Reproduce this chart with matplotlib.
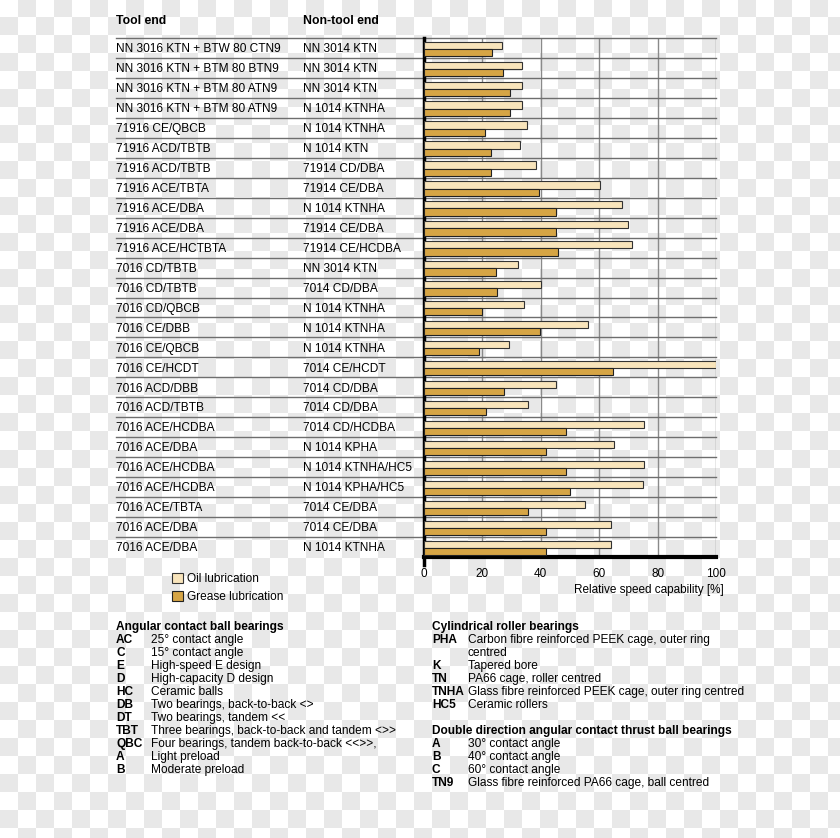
import numpy as np
import matplotlib.pyplot as plt
from matplotlib.patches import Patch
from matplotlib.transforms import blended_transform_factory

plt.rcParams['font.family'] = ['Liberation Sans', 'DejaVu Sans']

tool_end = ['NN 3016 KTN + BTW 80 CTN9', 'NN 3016 KTN + BTM 80 BTN9', 'NN 3016 KTN + BTM 80 ATN9',
            'NN 3016 KTN + BTM 80 ATN9', '71916 CE/QBCB', '71916 ACD/TBTB', '71916 ACD/TBTB',
            '71916 ACE/TBTA', '71916 ACE/DBA', '71916 ACE/DBA', '71916 ACE/HCTBTA',
            '7016 CD/TBTB', '7016 CD/TBTB', '7016 CD/QBCB', '7016 CE/DBB', '7016 CE/QBCB',
            '7016 CE/HCDT', '7016 ACD/DBB', '7016 ACD/TBTB', '7016 ACE/HCDBA', '7016 ACE/DBA',
            '7016 ACE/HCDBA', '7016 ACE/HCDBA', '7016 ACE/TBTA', '7016 ACE/DBA', '7016 ACE/DBA']
non_tool_end = ['NN 3014 KTN', 'NN 3014 KTN', 'NN 3014 KTN', 'N 1014 KTNHA', 'N 1014 KTNHA',
                'N 1014 KTN', '71914 CD/DBA', '71914 CE/DBA', 'N 1014 KTNHA', '71914 CE/DBA',
                '71914 CE/HCDBA', 'NN 3014 KTN', '7014 CD/DBA', 'N 1014 KTNHA', 'N 1014 KTNHA',
                'N 1014 KTNHA', '7014 CE/HCDT', '7014 CD/DBA', '7014 CD/DBA', '7014 CD/HCDBA',
                'N 1014 KPHA', 'N 1014 KTNHA/HC5', 'N 1014 KPHA/HC5', '7014 CE/DBA',
                '7014 CE/DBA', 'N 1014 KTNHA']
oil = [26.7, 33.4, 33.4, 33.6, 35.2, 33.0, 38.2, 60.4, 67.9, 69.8, 71.1, 32.3, 40.2,
       34.1, 56.1, 29.0, 100, 45.3, 35.7, 75.2, 65.0, 75.2, 74.9, 55.3, 63.9, 63.9]
grease = [23.4, 27.2, 29.6, 29.5, 21.0, 22.8, 22.8, 39.5, 45.3, 45.3, 45.8, 24.5, 24.9,
          20.0, 39.6, 18.9, 64.8, 27.5, 21.3, 48.5, 41.9, 48.7, 49.9, 35.7, 41.7, 41.7]

acb_codes = ['AC', 'C', 'E', 'D', 'HC', 'DB', 'DT', 'TBT', 'QBC', 'A', 'B']
acb_desc = ['25° contact angle', '15° contact angle', 'High-speed E design',
            'High-capacity D design', 'Ceramic balls', 'Two bearings, back-to-back <>',
            'Two bearings, tandem <<', 'Three bearings, back-to-back and tandem <>>',
            'Four bearings, tandem back-to-back <<>>,', 'Light preload', 'Moderate preload']
crb_codes = ['PHA', '', 'K', 'TN', 'TNHA', 'HC5']
crb_desc = ['Carbon fibre reinforced PEEK cage, outer ring', 'centred', 'Tapered bore',
            'PA66 cage, roller centred', 'Glass fibre reinforced PEEK cage, outer ring centred',
            'Ceramic rollers']
thr_codes = ['A', 'B', 'C', 'TN9']
thr_desc = ['30° contact angle', '40° contact angle', '60° contact angle',
            'Glass fibre reinforced PA66 cage, ball centred']

W, H = 840, 838
fig = plt.figure(figsize=(W / 100, H / 100), dpi=100)

# checkerboard background (transparent png look)
bg = fig.add_axes([0, 0, 1, 1], zorder=-5)
n = 48
checker = (np.add.outer(np.arange(n), np.arange(n)) % 2).astype(float)
bg.imshow(checker, cmap='gray_r', vmin=0, vmax=11, extent=[0, n * 18, n * 18, 0],
          interpolation='nearest')
bg.set_xlim(0, W)
bg.set_ylim(H, 0)
bg.axis('off')

ax = fig.add_axes([424 / W, 1 - 557 / H, (716 - 424) / W, (557 - 38) / H])
ax.set_facecolor('none')
nrows = len(oil)
y = np.arange(nrows) + 0.5
h = 0.36
ax.barh(y - h / 2 + 0.04, oil, height=h, color='#f8e4bb', edgecolor='#333333', linewidth=0.8, zorder=3)
ax.barh(y + h / 2 + 0.04, grease, height=h, color='#d6a545', edgecolor='#222222', linewidth=0.8, zorder=3)
ax.set_xlim(0, 100)
ax.set_ylim(nrows, 0)
ax.set_yticks([])
ax.set_xticks([0, 20, 40, 60, 80, 100])
ax.tick_params(axis='x', length=0, pad=8, labelsize=8.5)
for v in [20, 40, 60, 80, 100]:
    ax.axvline(v, color='#8a8a8a', linewidth=1, zorder=1)
for s in ['top', 'right']:
    ax.spines[s].set_visible(False)
ax.spines['left'].set_linewidth(2.5)
ax.spines['left'].set_bounds(nrows + 0.4, 0)
ax.spines['bottom'].set_linewidth(3)

# row separators across label columns
trans = blended_transform_factory(fig.transFigure, ax.transData)
for b in range(nrows):
    ax.plot([116 / W, 716 / W], [b, b], transform=trans, color='#6e6e6e', linewidth=1,
            clip_on=False, zorder=2)

for i in range(nrows):
    ax.text(116 / W, y[i] + 0.06, tool_end[i], transform=trans, va='center', ha='left', fontsize=8.6)
    ax.text(303 / W, y[i] + 0.06, non_tool_end[i], transform=trans, va='center', ha='left', fontsize=8.6)

fig.text(116 / W, 1 - 21 / H, 'Tool end', fontsize=8.8, fontweight='bold', va='center')
fig.text(303 / W, 1 - 21 / H, 'Non-tool end', fontsize=8.8, fontweight='bold', va='center')
fig.text(724 / W, 1 - 590 / H, 'Relative speed capability [%]', fontsize=8.5, ha='right', va='center')

handles = [Patch(facecolor='#f8e4bb', edgecolor='#333333', linewidth=0.8),
           Patch(facecolor='#d6a545', edgecolor='#222222', linewidth=0.8)]
fig.legend(handles, ['Oil lubrication', 'Grease lubrication'], loc='upper left',
           bbox_to_anchor=(161 / W, 1 - 562 / H), frameon=False, fontsize=8.6,
           handlelength=0.9, handleheight=0.9, handletextpad=0.4, labelspacing=0.55)

def block(x_code, x_desc, y0, title, codes, descs):
    fig.text(x_code / W, 1 - y0 / H, title, fontsize=8.6, fontweight='bold', va='center')
    for k, (c, d) in enumerate(zip(codes, descs)):
        yy = 1 - (y0 + 13 * (k + 1)) / H
        fig.text(x_code / W, yy, c, fontsize=8.6, fontweight='bold', va='center')
        fig.text(x_desc / W, yy, d, fontsize=8.6, va='center')

block(116, 151, 627, 'Angular contact ball bearings', acb_codes, acb_desc)
block(432, 468, 627, 'Cylindrical roller bearings', crb_codes, crb_desc)
block(432, 468, 731, 'Double direction angular contact thrust ball bearings', thr_codes, thr_desc)

fig.savefig('out.png', dpi=100)
